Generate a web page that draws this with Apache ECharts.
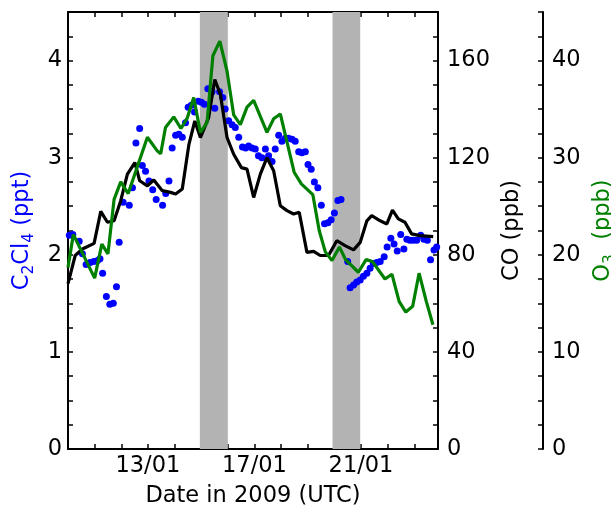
<!DOCTYPE html>
<html>
<head>
<meta charset="utf-8">
<script src="https://cdn.jsdelivr.net/npm/echarts@6/dist/echarts.min.js"></script>
<style>
  html, body { margin: 0; padding: 0; background: #ffffff; }
  #chart { width: 611px; height: 510px; }
</style>
</head>
<body>
<div id="chart"></div>
<script>
  // C2Cl4 samples: day of January 2009 and mixing ratio (ppt)
  const c2cl4Days = [10.05, 10.18, 10.42, 10.54, 10.68, 10.83, 10.97, 11.11, 11.20, 11.30,
    11.44, 11.57, 11.70, 11.82, 11.92, 12.07, 12.30, 12.42, 12.55, 12.69,
    12.79, 12.91, 13.04, 13.18, 13.31, 13.55, 13.67, 13.79, 13.91, 14.04,
    14.16, 14.29, 14.41, 14.51, 14.63, 14.75, 14.89, 15.01, 15.12, 15.25,
    15.41, 15.51, 15.69, 15.81, 15.90, 16.03, 16.16, 16.28, 16.41, 16.55,
    16.67, 16.78, 16.91, 17.03, 17.15, 17.28, 17.41, 17.53, 17.66, 17.78,
    17.91, 18.03, 18.16, 18.28, 18.41, 18.53, 18.66, 18.78, 18.91, 19.01,
    19.13, 19.25, 19.38, 19.51, 19.63, 19.76, 19.88, 20.00, 20.13, 20.25,
    20.50, 20.59, 20.72, 20.84, 20.97, 21.09, 21.22, 21.34, 21.46, 21.59,
    21.72, 21.87, 21.98, 22.12, 22.24, 22.36, 22.49, 22.61, 22.72, 22.84,
    22.96, 23.09, 23.24, 23.36, 23.49, 23.61, 23.74, 23.84];
  const c2cl4Values = [2.20, 2.21, 2.14, 2.01, 1.90, 1.92, 1.93, 1.94, 1.96, 1.81,
    1.57, 1.49, 1.50, 1.67, 2.13, 2.54, 2.51, 2.69, 3.15, 3.30,
    2.92, 2.86, 2.76, 2.67, 2.57, 2.51, 2.63, 2.76, 3.10, 3.23,
    3.24, 3.21, 3.36, 3.52, 3.54, 3.47, 3.58, 3.57, 3.55, 3.71,
    3.68, 3.51, 3.68, 3.62, 3.50, 3.38, 3.34, 3.31, 3.21, 3.11,
    3.10, 3.12, 3.10, 3.09, 3.02, 3.00, 3.09, 3.02, 2.96, 3.09,
    3.23, 3.17, 3.20, 3.20, 3.19, 3.17, 3.06, 3.05, 3.06, 2.93,
    2.88, 2.75, 2.69, 2.51, 2.32, 2.33, 2.36, 2.43, 2.56, 2.57,
    1.93, 1.66, 1.69, 1.72, 1.74, 1.78, 1.81, 1.86, 1.91, 1.92,
    1.93, 1.98, 2.08, 2.17, 2.11, 2.04, 2.21, 2.06, 2.16, 2.15,
    2.15, 2.15, 2.20, 2.16, 2.15, 1.95, 2.05, 2.08];

  // CO (ppb)
  const coDays = [10.00, 10.27, 10.54, 10.98, 11.23, 11.48, 11.73, 11.98, 12.23, 12.51,
    12.69, 12.98, 13.22, 13.54, 13.85, 14.04, 14.29, 14.54, 14.76, 14.97,
    15.28, 15.51, 15.72, 15.97, 16.22, 16.51, 16.72, 16.97, 17.22, 17.47,
    17.72, 17.97, 18.22, 18.47, 18.68, 18.97, 19.22, 19.47, 19.78, 20.09,
    20.40, 20.72, 20.97, 21.22, 21.40, 21.72, 21.97, 22.18, 22.40, 22.65,
    22.90, 23.21, 23.71];
  const coValues = [68.1, 79.7, 82.4, 84.7, 97.9, 93.4, 94.0, 102.3, 113.2, 118.0,
    110.5, 108.4, 110.8, 106.4, 105.7, 105.0, 107.1, 125.5, 135.1, 128.3,
    136.5, 152.2, 146.1, 128.3, 121.4, 115.9, 115.3, 103.6, 113.2, 120.0,
    114.6, 100.2, 98.2, 96.8, 97.5, 81.0, 81.4, 79.7, 79.7, 85.8,
    83.8, 82.0, 85.1, 94.0, 96.1, 94.0, 92.7, 98.4, 94.8, 93.4,
    88.6, 87.9, 87.5];

  // O3 (ppb)
  const o3Days = [10.00, 10.20, 11.00, 11.27, 11.50, 11.73, 11.98, 12.26, 12.98, 13.35,
    13.48, 13.66, 13.97, 14.24, 14.48, 14.72, 14.97, 15.22, 15.44, 15.70,
    15.97, 16.22, 16.47, 16.72, 16.97, 17.47, 17.72, 17.97, 18.49, 18.76,
    19.19, 19.43, 19.66, 19.91, 20.19, 20.42, 20.90, 21.19, 21.43, 21.90,
    22.16, 22.43, 22.68, 22.94, 23.18, 23.45, 23.70];
  const o3Values = [18.7, 22.1, 17.6, 21.1, 20.1, 25.7, 27.5, 26.3, 32.1, 30.7,
    30.4, 33.1, 34.2, 33.0, 34.1, 36.2, 32.6, 33.6, 40.5, 42.0,
    38.9, 34.4, 33.4, 35.2, 35.9, 32.6, 34.0, 34.5, 28.5, 27.3,
    26.2, 22.5, 20.3, 19.4, 20.8, 19.5, 18.2, 19.5, 19.3, 17.5,
    18.0, 15.2, 14.1, 14.7, 18.1, 15.2, 12.8];

  // shaded periods (day of January)
  const shadeStart = [14.95, 19.93];
  const shadeEnd = [16.0, 20.97];

  const xTickDays = [13, 17, 21];
  const xTickLabels = ['13/01', '17/01', '21/01'];
  const c2cl4Ticks = [0, 1, 2, 3, 4];
  const coTicks = [0, 40, 80, 120, 160];
  const o3Ticks = [0, 10, 20, 30, 40];

  const FONT = 'DejaVu Sans';
  const FS = 22.5;

  const pairs = (xs, ys) => xs.map((x, i) => [x, ys[i]]);
  const near = (v, list) => list.some(t => Math.abs(v - t) < 1e-6);

  // rich styles for subscripted axis names
  function richName(color) {
    return {
      color: color, fontFamily: FONT, fontSize: FS,
      rich: {
        n: { color: color, fontFamily: FONT, fontSize: FS, lineHeight: 30, verticalAlign: 'middle' },
        s: { color: color, fontFamily: FONT, fontSize: 15.5, lineHeight: 30, verticalAlign: 'bottom' }
      }
    };
  }

  function yAxisBase(max, interval, ticks, extra) {
    return Object.assign({
      type: 'value',
      min: 0,
      max: max,
      interval: interval,
      splitLine: { show: false },
      axisLine: { show: true, lineStyle: { color: '#000', width: 2 } },
      axisTick: { show: true, inside: true, length: 5, lineStyle: { color: '#000', width: 1.5 } },
      axisLabel: {
        margin: 9,
        color: '#000',
        fontFamily: FONT,
        fontSize: FS,
        formatter: v => near(v, ticks) ? String(v) : ''
      },
      nameLocation: 'middle',
      nameRotate: 90
    }, extra);
  }

  const chart = echarts.init(document.getElementById('chart'));

  chart.setOption({
    animation: false,
    backgroundColor: '#ffffff',
    grid: { left: 68, right: 173, top: 12, bottom: 61, outerBoundsMode: 'none', containLabel: false },
    xAxis: [{
      type: 'value',
      min: 10,
      max: 23.89,
      interval: 1,
      splitLine: { show: false },
      axisLine: { show: true, onZero: false, lineStyle: { color: '#000', width: 2 } },
      axisTick: { show: true, inside: true, length: 5, lineStyle: { color: '#000', width: 1.5 } },
      axisLabel: {
        margin: 6,
        color: '#000',
        fontFamily: FONT,
        fontSize: FS,
        showMaxLabel: false,
        formatter: v => {
          const k = xTickDays.findIndex(t => Math.abs(t - v) < 1e-6);
          return k >= 0 ? xTickLabels[k] : '';
        }
      },
      name: 'Date in 2009 (UTC)',
      nameLocation: 'middle',
      nameGap: 36,
      nameTextStyle: { color: '#000', fontFamily: FONT, fontSize: FS }
    }, {
      // top frame line
      type: 'value',
      position: 'top',
      min: 10,
      max: 23.89,
      interval: 1,
      splitLine: { show: false },
      axisLine: { show: true, onZero: false, lineStyle: { color: '#000', width: 2 } },
      axisTick: { show: true, inside: true, length: 5, lineStyle: { color: '#000', width: 1.5 } },
      axisLabel: { show: false }
    }],
    yAxis: [
      yAxisBase(4.5, 0.25, c2cl4Ticks, {
        position: 'left',
        axisLabel: {
          margin: 6, color: '#000', fontFamily: FONT, fontSize: FS,
          formatter: v => near(v, c2cl4Ticks) ? String(v) : ''
        },
        name: '{n|C}{s|2}{n|Cl}{s|4}{n| (ppt)}',
        nameGap: 30,
        nameTextStyle: richName('#0000ff')
      }),
      yAxisBase(180, 10, coTicks, {
        position: 'right',
        offset: 0,
        name: 'CO (ppb)',
        nameGap: 48,
        nameTextStyle: { color: '#000', fontFamily: FONT, fontSize: FS }
      }),
      yAxisBase(45, 2.5, o3Ticks, {
        position: 'right',
        offset: 105,
        name: '{n|O}{s|3}{n|  (ppb)}',
        nameGap: 30,
        nameTextStyle: richName('#008000')
      })
    ],
    series: [{
      name: 'shade',
      type: 'line',
      data: [],
      z: 1,
      silent: true,
      markArea: {
        silent: true,
        itemStyle: { color: '#b3b3b3', opacity: 1 },
        data: shadeStart.map((s, i) => [{ xAxis: s }, { xAxis: shadeEnd[i] }])
      }
    }, {
      name: 'C2Cl4',
      type: 'scatter',
      xAxisIndex: 0,
      yAxisIndex: 0,
      z: 3,
      symbol: 'circle',
      symbolSize: 7,
      itemStyle: { color: '#0000ff', opacity: 1 },
      data: pairs(c2cl4Days, c2cl4Values)
    }, {
      name: 'CO',
      type: 'line',
      xAxisIndex: 0,
      yAxisIndex: 1,
      z: 4,
      showSymbol: false,
      lineStyle: { color: '#000', width: 3.2 },
      data: pairs(coDays, coValues)
    }, {
      name: 'O3',
      type: 'line',
      xAxisIndex: 0,
      yAxisIndex: 2,
      z: 5,
      showSymbol: false,
      lineStyle: { color: '#008000', width: 3.2 },
      data: pairs(o3Days, o3Values)
    }]
  });
</script>
</body>
</html>
